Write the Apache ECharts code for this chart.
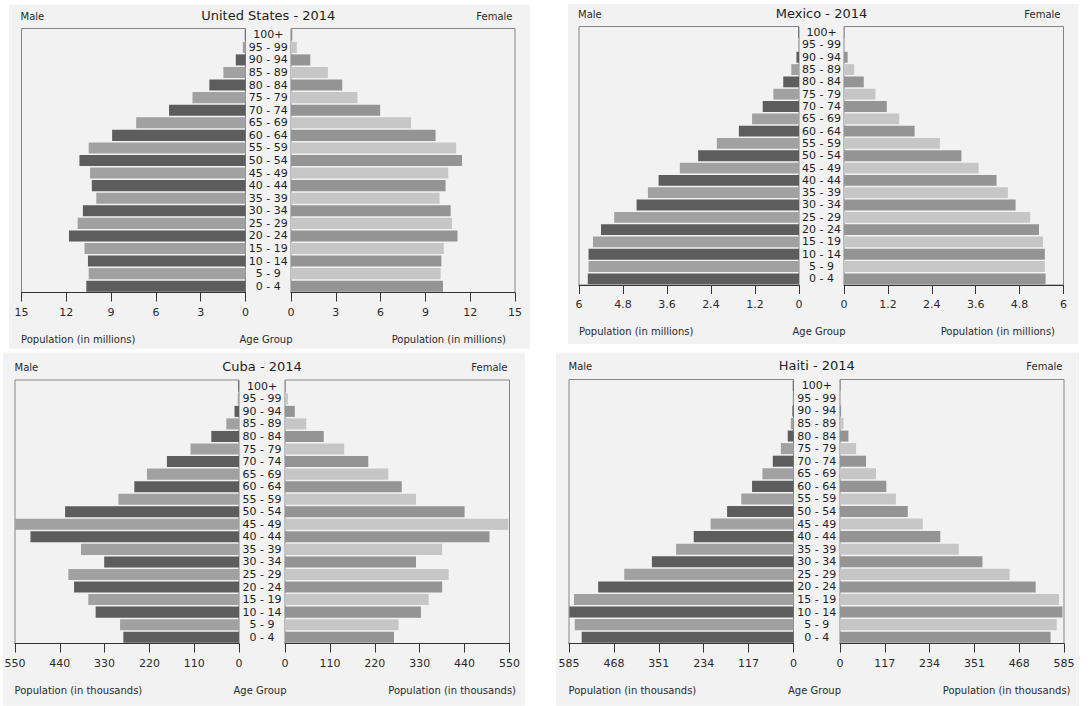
<!DOCTYPE html>
<html>
<head>
<meta charset="utf-8">
<title>Population pyramids 2014</title>
<script src="https://cdn.jsdelivr.net/npm/echarts@6/dist/echarts.min.js"></script>
<style>
  html, body { margin: 0; padding: 0; background: #ffffff; }
  #chart { width: 1092px; height: 706px; }
</style>
</head>
<body>
<div id="chart"></div>
<script>
// 연령대 (아래 -> 위)
var ageGroups = ['0 - 4', '5 - 9', '10 - 14', '15 - 19', '20 - 24', '25 - 29', '30 - 34',
  '35 - 39', '40 - 44', '45 - 49', '50 - 54', '55 - 59', '60 - 64', '65 - 69',
  '70 - 74', '75 - 79', '80 - 84', '85 - 89', '90 - 94', '95 - 99', '100+'];

// United States (millions)
var usMale   = [10.66, 10.50, 10.55, 10.78, 11.82, 11.24, 10.89, 9.99, 10.29, 10.41, 11.12, 10.50, 8.93, 7.32, 5.12, 3.55, 2.42, 1.48, 0.65, 0.18, 0.05];
var usFemale = [10.18, 10.02, 10.07, 10.23, 11.15, 10.78, 10.69, 9.95, 10.35, 10.53, 11.45, 11.06, 9.68, 8.04, 5.97, 4.45, 3.43, 2.47, 1.29, 0.39, 0.09];

// Mexico (millions)
var mxMale   = [5.76, 5.74, 5.74, 5.62, 5.40, 5.04, 4.43, 4.12, 3.83, 3.25, 2.75, 2.24, 1.64, 1.28, 0.99, 0.70, 0.43, 0.21, 0.07, 0.01, 0.02];
var mxFemale = [5.51, 5.49, 5.49, 5.44, 5.33, 5.09, 4.69, 4.48, 4.17, 3.68, 3.21, 2.62, 1.93, 1.51, 1.17, 0.86, 0.54, 0.28, 0.10, 0.01, 0.02];

// Cuba (thousands)
var cuMale   = [284, 292, 352, 370, 405, 419, 331, 388, 512, 550, 427, 296, 257, 226, 177, 119, 68, 31, 11, 3, 2];
var cuFemale = [267, 278, 333, 352, 385, 401, 321, 385, 501, 547, 440, 321, 286, 253, 204, 145, 95, 52, 24, 7, 2];

// Haiti (thousands)
var htMale   = [552, 570, 584, 572, 509, 441, 369, 306, 260, 216, 173, 136, 108, 81, 54, 33, 15, 7, 3, 2, 2];
var htFemale = [550, 566, 581, 572, 511, 443, 372, 310, 262, 216, 177, 146, 121, 94, 68, 42, 22, 9, 3, 2, 2];

// 축 최대값 / 간격
var usAxisMax = 15,  usAxisStep = 3;
var mxAxisMax = 6,   mxAxisStep = 1.2;
var cuAxisMax = 550, cuAxisStep = 110;
var htAxisMax = 585, htAxisStep = 117;

/////////////////////////////////////////////////////////////////////////////////////////
// 패널 배치 (픽셀)
var panels = [
  { title: 'United States - 2014', unit: 'Population (in millions)', male: usMale, female: usFemale,
    max: usAxisMax, step: usAxisStep,
    bg: [9, 5, 521, 344], left: 21.5, zeroL: 245.5, zeroR: 291, right: 515, top: 28.5, bottom: 292.5,
    titleY: 15, sexY: 16, sexL: 20.5, sexR: 512.5, nameY: 339, nameL: 21, nameR: 506, nameC: 266 },
  { title: 'Mexico - 2014', unit: 'Population (in millions)', male: mxMale, female: mxFemale,
    max: mxAxisMax, step: mxAxisStep,
    bg: [568, 4, 510, 340], left: 579, zeroL: 799, zeroR: 844, right: 1063.5, top: 26.5, bottom: 285,
    titleY: 13.5, sexY: 14.5, sexL: 578, sexR: 1060.5, nameY: 331, nameL: 579, nameR: 1055, nameC: 819 },
  { title: 'Cuba - 2014', unit: 'Population (in thousands)', male: cuMale, female: cuFemale,
    max: cuAxisMax, step: cuAxisStep,
    bg: [3, 352.5, 522, 353], left: 15, zeroL: 239, zeroR: 285, right: 509.5, top: 380, bottom: 643.5,
    titleY: 366.5, sexY: 367, sexL: 14.5, sexR: 507.5, nameY: 690, nameL: 14.5, nameR: 516, nameC: 260 },
  { title: 'Haiti - 2014', unit: 'Population (in thousands)', male: htMale, female: htFemale,
    max: htAxisMax, step: htAxisStep,
    bg: [556, 352.5, 523, 353], left: 569, zeroL: 793.5, zeroR: 840, right: 1064, top: 379.5, bottom: 643.5,
    titleY: 365.5, sexY: 366.5, sexL: 568.5, sexR: 1062.5, nameY: 690, nameL: 568.5, nameR: 1070.5, nameC: 814.5 }
];

var FONT = '"DejaVu Sans", Verdana, sans-serif';
var maleColors = ['#5d5d5d', '#a1a1a1'];
var femaleColors = ['#949494', '#c6c6c6'];

function colored(values, colors) {
  return values.map(function (v, i) {
    return { value: v, itemStyle: { color: colors[i % 2] } };
  });
}

function xAxisFor(p, gridIndex, inverse) {
  return {
    type: 'value', gridIndex: gridIndex, inverse: inverse,
    min: 0, max: p.max, interval: p.step,
    axisLine: { show: true, lineStyle: { color: '#333', width: 1 } },
    axisTick: { show: true, length: 9, lineStyle: { color: '#333' } },
    splitLine: { show: false },
    axisLabel: { margin: 14, fontSize: 11, color: '#2a2a2a', fontFamily: FONT,
      showMinLabel: true, showMaxLabel: true }
  };
}

var grids = [], xAxes = [], yAxes = [], series = [], graphics = [];

panels.forEach(function (p, k) {
  var gL = k * 2, gR = k * 2 + 1;
  var h = p.bottom - p.top;
  var gap = p.zeroR - p.zeroL;

  // 배경
  graphics.push({ type: 'rect', z: -10, shape: { x: p.bg[0], y: p.bg[1], width: p.bg[2], height: p.bg[3] },
    style: { fill: '#f2f2f2' } });

  grids.push({ left: p.left, top: p.top, width: p.zeroL - p.left, height: h,
    show: true, borderColor: '#858585', borderWidth: 1, backgroundColor: 'transparent' });
  grids.push({ left: p.zeroR, top: p.top, width: p.right - p.zeroR, height: h,
    show: true, borderColor: '#858585', borderWidth: 1, backgroundColor: 'transparent' });

  xAxes.push(xAxisFor(p, gL, true));
  xAxes.push(xAxisFor(p, gR, false));

  yAxes.push({ type: 'category', gridIndex: gL, data: ageGroups, position: 'right',
    axisLine: { show: false }, axisTick: { show: false }, axisLabel: { show: false } });
  yAxes.push({ type: 'category', gridIndex: gR, data: ageGroups, position: 'left',
    axisLine: { show: false }, axisTick: { show: false },
    axisLabel: { align: 'center', margin: gap / 2, fontSize: 11, color: '#1e1e1e', fontFamily: FONT, interval: 0 } });

  series.push({ type: 'bar', xAxisIndex: gL, yAxisIndex: gL, data: colored(p.male, maleColors),
    barCategoryGap: '12%', silent: true });
  series.push({ type: 'bar', xAxisIndex: gR, yAxisIndex: gR, data: colored(p.female, femaleColors),
    barCategoryGap: '12%', silent: true });

  var mid = (p.zeroL + p.zeroR) / 2;
  function txt(s, x, y, align, size, color) {
    graphics.push({ type: 'text', x: x, y: y, z: 10,
      style: { text: s, align: align, verticalAlign: 'middle', font: size + 'px ' + FONT, fill: color } });
  }
  txt(p.title, mid, p.titleY, 'center', 13, '#1e1e1e');
  txt('Male', p.sexL, p.sexY, 'left', 10, '#2a2a2a');
  txt('Female', p.sexR, p.sexY, 'right', 10, '#2a2a2a');
  txt(p.unit, p.nameL, p.nameY, 'left', 10, '#2a2a2a');
  txt('Age Group', p.nameC, p.nameY, 'center', 10, '#2a2a2a');
  txt(p.unit, p.nameR, p.nameY, 'right', 10, '#2a2a2a');
});

var chart = echarts.init(document.getElementById('chart'), null, { renderer: 'svg' });
chart.setOption({
  animation: false,
  backgroundColor: '#ffffff',
  grid: grids,
  xAxis: xAxes,
  yAxis: yAxes,
  series: series,
  graphic: graphics
});
</script>
</body>
</html>
